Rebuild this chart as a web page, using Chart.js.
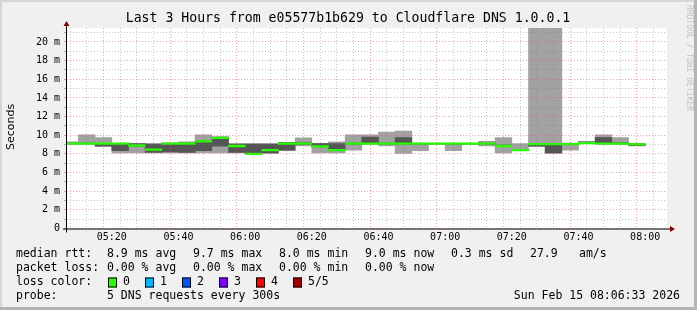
<!DOCTYPE html>
<html><head><meta charset="utf-8">
<script src="https://cdn.jsdelivr.net/npm/chart.js@4/dist/chart.umd.min.js"></script>
<style>
html,body{margin:0;padding:0;background:#f0f0f0;overflow:hidden;}
canvas{display:block;}
</style></head><body>
<canvas id="c" width="697" height="310"></canvas>
<script>
// ---------- data ----------
const titleText = 'Last 3 Hours from e05577b1b629 to Cloudflare DNS 1.0.0.1';
const rangeStart = '05:06:33';
const rangeEnd = '08:06:33';
const binLabels = ['05:05','05:10','05:15','05:20','05:25','05:30','05:35','05:40','05:45','05:50',
  '05:55','06:00','06:05','06:10','06:15','06:20','06:25','06:30','06:35','06:40',
  '06:45','06:50','06:55','07:00','07:05','07:10','07:15','07:20','07:25','07:30',
  '07:35','07:40','07:45','07:50','07:55'];
// ping round trip times in ms, sorted per bin: min, 2nd, median, 4th, max
const minRtt = [9.05,9.05,8.80,8.10,8.10,8.10,8.10,8.10,8.10,8.10,
  8.10,7.95,8.05,8.35,8.85,8.10,8.10,8.40,9.05,8.85,
  8.05,8.35,9.05,8.35,9.05,8.85,8.10,8.35,8.80,8.05,
  8.40,9.10,9.05,9.05,8.85];
const p2Rtt = [9.10,9.10,8.82,8.35,8.80,8.15,8.20,8.15,8.35,8.82,
  8.15,8.00,8.10,8.40,9.00,8.75,8.35,9.05,9.10,9.05,
  9.05,9.05,9.08,9.05,9.08,9.05,8.80,8.38,8.82,8.10,
  9.00,9.12,9.10,9.08,8.88];
const medianRtt = [9.10,9.10,9.10,9.10,8.90,8.45,9.10,9.10,9.35,9.72,
  8.85,8.00,8.40,9.10,9.10,8.80,8.40,9.10,9.10,9.10,
  9.10,9.10,9.10,9.10,9.10,9.10,8.85,8.40,9.05,9.05,
  9.05,9.15,9.10,9.10,9.02];
const p4Rtt = [9.15,9.15,9.10,9.10,9.10,9.05,9.15,9.15,9.40,9.80,
  9.05,9.05,9.05,9.20,9.20,9.10,9.10,9.15,9.80,9.15,
  9.75,9.12,9.12,9.12,9.12,9.15,8.95,8.45,9.10,9.10,
  9.10,9.30,9.75,9.20,9.08];
const maxRtt = [9.30,10.05,9.75,9.15,9.10,9.10,9.15,9.30,10.05,9.82,
  9.10,9.10,9.10,9.25,9.72,9.12,9.30,10.05,10.05,10.35,
  10.45,9.15,9.15,9.15,9.15,9.35,9.75,9.10,30.0,30.0,
  9.15,9.32,10.05,9.75,9.10];
const xTickLabels = ['05:20','05:40','06:00','06:20','06:40','07:00','07:20','07:40','08:00'];
const xGridLabels = ['05:10','05:15','05:20','05:25','05:30','05:35','05:40','05:45','05:50','05:55',
  '06:00','06:05','06:10','06:15','06:20','06:25','06:30','06:35','06:40','06:45','06:50','06:55',
  '07:00','07:05','07:10','07:15','07:20','07:25','07:30','07:35','07:40','07:45','07:50','07:55',
  '08:00','08:05'];
const yTickValues = [0,2,4,6,8,10,12,14,16,18,20];
const yTickLabels = ['0','2 m','4 m','6 m','8 m','10 m','12 m','14 m','16 m','18 m','20 m'];
const yGridValues = [0,1,2,3,4,5,6,7,8,9,10,11,12,13,14,15,16,17,18,19,20,21];
const yMax = 21.5;
const legendRows = [
  ['median rtt:', '8.9 ms avg', '9.7 ms max', '8.0 ms min', '9.0 ms now', '0.3 ms sd', '27.9', 'am/s'],
  ['packet loss:', '0.00 % avg', '0.00 % max', '0.00 % min', '0.00 % now'],
  ['loss color:'],
  ['probe:', '5 DNS requests every 300s']
];
const lossLabels = ['0','1','2','3','4','5/5'];
const lossColors = ['#26ff00','#00b8ff','#0059ff','#7e00ff','#ff0000','#a00000'];
const stampText = 'Sun Feb 15 08:06:33 2026';
const watermark = 'RRDTOOL / TOBI OETIKER';
const yTitle = 'Seconds';

// ---------- helpers ----------
function toMin(s){ const p = s.split(':').map(Number); return p[0]*60 + p[1] + (p[2]||0)/60 - 300; }
const binMin = 5;
const xStart = toMin(rangeStart), xEnd = toMin(rangeEnd);
const xTickMinutes = xTickLabels.map(toMin);
const xGridMinutes = xGridLabels.map(toMin);
const centers = binLabels.map(l => toMin(l) + binMin/2);
const medHalf = 0.09;

const MONO = '"DejaVu Sans Mono", monospace';
const majorGrid = 'rgba(255,70,70,0.5)';
const minorGrid = 'rgba(120,120,120,0.42)';
const isMajorX = v => xTickMinutes.some(t => Math.abs(t - v) < 1e-6);

const deco = {
  id: 'deco',
  beforeDraw(chart){
    const {ctx, chartArea:a, width:W, height:H} = chart;
    ctx.save();
    ctx.fillStyle = '#f0f0f0'; ctx.fillRect(0,0,W,H);
    ctx.fillStyle = '#d6d6d6'; ctx.fillRect(0,0,W,2); ctx.fillRect(0,0,2,H);
    ctx.fillStyle = '#b4b4b4'; ctx.fillRect(W-3,0,3,H); ctx.fillRect(0,H-3,W,3);
    ctx.fillStyle = '#ffffff'; ctx.fillRect(a.left, a.top, a.right-a.left, a.bottom-a.top);
    ctx.restore();
  },
  afterDraw(chart){
    const {ctx, chartArea:a} = chart;
    ctx.save();
    // axes
    ctx.strokeStyle = '#000'; ctx.lineWidth = 1;
    ctx.beginPath();
    ctx.moveTo(a.left-0.5, a.bottom+4); ctx.lineTo(a.left-0.5, a.top-4);
    ctx.moveTo(a.left-4, a.bottom+0.5); ctx.lineTo(a.right+4, a.bottom+0.5);
    ctx.stroke();
    ctx.fillStyle = '#8b0000';
    ctx.beginPath();
    ctx.moveTo(a.left-0.5, a.top-7); ctx.lineTo(a.left-3.5, a.top-2); ctx.lineTo(a.left+2.5, a.top-2); ctx.closePath(); ctx.fill();
    ctx.beginPath();
    ctx.moveTo(a.right+8, a.bottom+0.5); ctx.lineTo(a.right+3, a.bottom-2.5); ctx.lineTo(a.right+3, a.bottom+3.5); ctx.closePath(); ctx.fill();

    ctx.fillStyle = '#000';
    ctx.textBaseline = 'middle';
    // title
    ctx.font = '13.2px ' + MONO; ctx.textAlign = 'center';
    ctx.fillText(titleText, 348, 19);
    // y title
    ctx.save(); ctx.translate(11, 127); ctx.rotate(-Math.PI/2);
    ctx.font = '11px "DejaVu Sans", sans-serif'; ctx.textAlign = 'center';
    ctx.fillText(yTitle, 0, 0); ctx.restore();
    // watermark
    ctx.save(); ctx.translate(689, 5); ctx.rotate(Math.PI/2);
    ctx.font = '8px ' + MONO; ctx.textAlign = 'left'; ctx.fillStyle = '#c2c2c2';
    ctx.fillText(watermark, 0, 0); ctx.restore();
    // legend
    ctx.font = '11.5px ' + MONO; ctx.textAlign = 'left';
    const colX = [16, 107, 193, 279, 365, 451, 530, 579];
    const rowY = [254.5, 268.5, 282.5, 296.5];
    legendRows.forEach((row, r) => row.forEach((t, k) => ctx.fillText(t, colX[k], rowY[r])));
    const boxX = [108, 145, 182, 219, 256, 293];
    lossLabels.forEach((l, i) => {
      ctx.fillStyle = lossColors[i];
      ctx.fillRect(boxX[i], rowY[2]-5, 9, 10);
      ctx.strokeStyle = '#000'; ctx.strokeRect(boxX[i]+0.5, rowY[2]-4.5, 8, 9);
      ctx.fillStyle = '#000';
      ctx.fillText(l, boxX[i]+15, rowY[2]);
    });
    ctx.textAlign = 'right';
    ctx.fillText(stampText, 680, rowY[3]);
    ctx.restore();
  }
};

const barCommon = { type:'bar', grouped:false, barPercentage:1, categoryPercentage:1, borderWidth:0 };
new Chart(document.getElementById('c'), {
  type: 'bar',
  data: {
    datasets: [
      Object.assign({ label:'outer smoke', order:3, backgroundColor:'#a2a2a2',
        data: centers.map((x,i) => ({x, y:[minRtt[i], maxRtt[i]]})) }, barCommon),
      Object.assign({ label:'inner smoke', order:2, backgroundColor:'#555555',
        data: centers.map((x,i) => ({x, y:[p2Rtt[i], p4Rtt[i]]})) }, barCommon),
      Object.assign({ label:'median', order:1, backgroundColor:'#26ff00',
        data: centers.map((x,i) => ({x, y:[medianRtt[i]-medHalf, medianRtt[i]+medHalf]})) }, barCommon)
    ]
  },
  options: {
    responsive: false, animation: false, devicePixelRatio: 1,
    layout: { padding: { left: 0, top: 28, right: 30, bottom: 61.5 } },
    plugins: { legend: { display: false }, tooltip: { enabled: false }, title: { display: false } },
    scales: {
      x: {
        type: 'linear', min: xStart, max: xEnd, offset: false,
        afterBuildTicks: s => { s.ticks = xGridMinutes.map(v => ({value: v})); },
        afterFit: s => { s.height = 20; },
        ticks: { autoSkip: false, maxRotation: 0, minRotation: 0, padding: 3, color: '#000',
          font: { family: MONO, size: 10 },
          callback: v => { const i = xTickMinutes.findIndex(t => Math.abs(t - v) < 1e-6); return i >= 0 ? xTickLabels[i] : ''; } },
        grid: { z: 1, drawTicks: false, lineWidth: 1,
          color: c => (c.tick && isMajorX(c.tick.value)) ? majorGrid : minorGrid },
        border: { display: false, dash: [1, 2] }
      },
      y: {
        type: 'linear', min: 0, max: yMax,
        afterBuildTicks: s => { s.ticks = yGridValues.map(v => ({value: v})); },
        afterFit: s => { s.width = 67; },
        ticks: { autoSkip: false, padding: 4, color: '#000', font: { family: MONO, size: 10 },
          callback: v => { const i = yTickValues.indexOf(v); return i >= 0 ? yTickLabels[i] : ''; } },
        grid: { z: 1, drawTicks: true, tickLength: 3, tickBorderDash: [], lineWidth: 1,
          tickColor: c => (c.tick && yTickValues.includes(c.tick.value)) ? 'rgba(255,70,70,0.6)' : 'rgba(120,120,120,0.6)',
          color: c => (c.tick && yTickValues.includes(c.tick.value)) ? majorGrid : minorGrid },
        border: { display: false, dash: [1, 2] }
      }
    }
  },
  plugins: [deco]
});
</script>
</body></html>
